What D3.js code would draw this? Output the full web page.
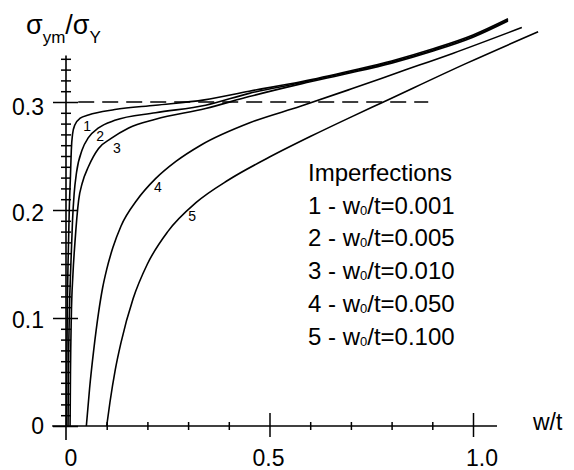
<!DOCTYPE html>
<html>
<head>
<meta charset="utf-8">
<script src="https://cdn.jsdelivr.net/npm/d3@7"></script>
<style>
  body { margin: 0; background: #fff; }
  svg { display: block; font-family: 'Liberation Sans', Arial, sans-serif; }
</style>
</head>
<body>
<svg width="574" height="470"></svg>
<script>
const width = 574, height = 470

// imperfection labels (w0/t) for the 5 curves
const curveIds = ['1', '2', '3', '4', '5']
const imperfections = ['0.001', '0.005', '0.010', '0.050', '0.100']

// curves: [w/t, sigma_ym/sigma_Y]
const curve1 = [[0.001,0],[0.002,0.05],[0.003,0.1],[0.005,0.15],[0.008,0.2],[0.011,0.232],[0.013,0.255],[0.016,0.27],[0.022,0.279],[0.035,0.285],[0.055,0.288],[0.12,0.293],[0.22,0.297],[0.34,0.302],[0.45,0.310],[0.58,0.319],[0.7,0.329],[0.8,0.338],[0.9,0.349],[1.0,0.362],[1.086,0.377]]
const curve2 = [[0.005,0],[0.006,0.05],[0.008,0.1],[0.012,0.15],[0.016,0.19],[0.02,0.215],[0.026,0.235],[0.04,0.256],[0.055,0.267],[0.08,0.276],[0.12,0.283],[0.22,0.29],[0.343,0.297],[0.45,0.308],[0.58,0.318],[0.7,0.328],[0.8,0.337],[0.9,0.348],[1.0,0.361],[1.086,0.376]]
const curve3 = [[0.01,0],[0.011,0.05],[0.013,0.1],[0.017,0.14],[0.022,0.17],[0.031,0.209],[0.04,0.225],[0.055,0.24],[0.08,0.257],[0.11,0.266],[0.154,0.276],[0.22,0.284],[0.343,0.294],[0.45,0.305],[0.58,0.317],[0.7,0.327],[0.8,0.336],[0.9,0.347],[1.0,0.36],[1.086,0.375]]
const curve4 = [[0.05,0],[0.058,0.035],[0.068,0.07],[0.08,0.105],[0.09,0.128],[0.1,0.145],[0.115,0.165],[0.135,0.185],[0.174,0.209],[0.22,0.229],[0.27,0.245],[0.331,0.26],[0.453,0.281],[0.576,0.296],[0.7,0.312],[0.821,0.328],[0.95,0.345],[1.12,0.369]]
const curve5 = [[0.1,0],[0.108,0.022],[0.121,0.052],[0.135,0.077],[0.165,0.118],[0.2,0.15],[0.25,0.18],[0.32,0.207],[0.4,0.228],[0.5,0.249],[0.6,0.268],[0.7,0.286],[0.78,0.3],[0.985,0.336],[1.16,0.365]]
const curves = [curve1, curve2, curve3, curve4, curve5]

// where the small curve numbers sit
const curveLabelPos = [[0.052,0.277],[0.084,0.267],[0.125,0.256],[0.226,0.220],[0.31,0.193]]

// axis ticks
const xMajor = [0.5, 1.0]
const xMinor = [0.1, 0.2, 0.3, 0.4, 0.6, 0.7, 0.8, 0.9]
const xLabels = ['0', '0.5', '1.0']
const xLabelVals = [0, 0.5, 1.0]
const yMajor = [0, 0.1, 0.2, 0.3]
const yLabels = ['0', '0.1', '0.2', '0.3']
const yMinor = d3.range(1, 35).map(i => i / 100).filter(v => Math.round(v * 100) % 10 !== 0)
const limitLine = 0.3

const x = d3.scaleLinear().domain([0, 1]).range([66, 473])
const y = d3.scaleLinear().domain([0, 0.3]).range([426, 102])

const svg = d3.select('svg')

// axis lines
svg.append('line')
    .attr('x1', x(-0.034)).attr('x2', x(1.059))
    .attr('y1', y(0)).attr('y2', y(0))
    .attr('stroke', '#000').attr('stroke-width', 1.6)
svg.append('line')
    .attr('x1', x(0)).attr('x2', x(0))
    .attr('y1', y(-0.013)).attr('y2', y(0.343))
    .attr('stroke', '#000').attr('stroke-width', 1.6)

// crossing ticks: one axis to each side
function ticks(axisFn, g, values, size) {
    g.call(axisFn.tickValues(values).tickSize(size).tickSizeOuter(0).tickFormat(''))
    g.select('.domain').remove()
    g.selectAll('line').attr('stroke', '#000').attr('stroke-width', 1.5)
}
const gy = svg.append('g').attr('transform', `translate(${x(0)},0)`)
ticks(d3.axisLeft(y), gy.append('g'), yMinor, 5)
ticks(d3.axisRight(y), gy.append('g'), yMinor, 5)
ticks(d3.axisLeft(y), gy.append('g'), yMajor, 13)
ticks(d3.axisRight(y), gy.append('g'), yMajor, 12)

const gx = svg.append('g').attr('transform', `translate(0,${y(0)})`)
ticks(d3.axisTop(x), gx.append('g'), xMinor, 4)
ticks(d3.axisBottom(x), gx.append('g'), xMinor, 4)
ticks(d3.axisTop(x), gx.append('g'), xMajor, 13)
ticks(d3.axisBottom(x), gx.append('g'), xMajor, 11)

// tick labels
svg.append('g').selectAll('text')
    .data(yMajor)
    .join('text')
    .attr('x', 44)
    .attr('y', d => y(d) + 8 + d * 15)
    .attr('text-anchor', 'end')
    .style('font-size', '23px')
    .text((d, i) => yLabels[i])

const xLabelShift = [5, -1, 9]
svg.append('g').selectAll('text')
    .data(xLabelVals)
    .join('text')
    .attr('x', (d, i) => x(d) + xLabelShift[i])
    .attr('y', 466)
    .attr('text-anchor', 'middle')
    .style('font-size', '23px')
    .text((d, i) => xLabels[i])

svg.append('text')
    .attr('x', 533).attr('y', 430)
    .style('font-size', '23px')
    .text('w/t')

// y axis title
const yt = svg.append('text').attr('x', 26).attr('y', 34).style('font-size', '27px')
yt.append('tspan').text('σ')
yt.append('tspan').attr('dy', 9).style('font-size', '17px').text('ym')
yt.append('tspan').attr('dy', -9).text('/σ')
yt.append('tspan').attr('dy', 9).style('font-size', '17px').text('Y')

// dashed limit at 0.3
svg.append('line')
    .attr('x1', x(0.03)).attr('x2', x(0.89))
    .attr('y1', y(limitLine)).attr('y2', y(limitLine))
    .attr('stroke', '#000').attr('stroke-width', 1.4)
    .attr('stroke-dasharray', '16,8')

// curves
const line = d3.line()
    .x(d => x(d[0]))
    .y(d => y(d[1]))
    .curve(d3.curveMonotoneX)

svg.append('g').selectAll('path')
    .data(curves)
    .join('path')
    .attr('d', line)
    .attr('fill', 'none')
    .attr('stroke', '#000')
    .attr('stroke-width', 1.6)

svg.append('g').selectAll('text')
    .data(curveLabelPos)
    .join('text')
    .attr('x', d => x(d[0]))
    .attr('y', d => y(d[1]))
    .attr('text-anchor', 'middle')
    .attr('dominant-baseline', 'middle')
    .style('font-size', '14px')
    .text((d, i) => curveIds[i])

// legend
const legend = svg.append('g').style('font-size', '24px')
legend.append('text').attr('x', 308).attr('y', 181).text('Imperfections')
imperfections.forEach((v, i) => {
    const t = legend.append('text').attr('x', 308).attr('y', 213.5 + i * 32.8)
    t.append('tspan').text(`${curveIds[i]} - w`)
    t.append('tspan').style('font-size', '13px').attr('dy', 1).text('0')
    t.append('tspan').attr('dy', -1).text(`/t=${v}`)
})
</script>
</body>
</html>
